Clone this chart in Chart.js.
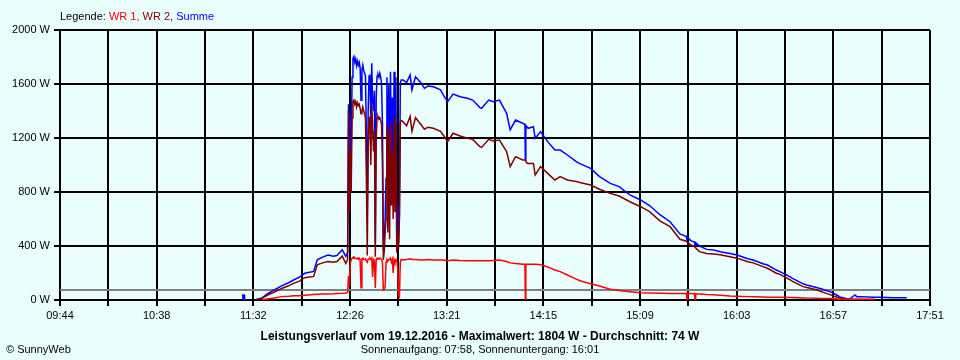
<!DOCTYPE html>
<html lang="de">
<head>
<meta charset="UTF-8">
<title>Leistungsverlauf vom 19.12.2016</title>
<script src="https://cdn.jsdelivr.net/npm/chart.js"></script>
<style>
  body { margin: 0; background: #ebfefe; font-family: 'Liberation Sans', Arial, sans-serif; font-size: 11px; color: #000; }
  .wrap { position: relative; width: 960px; height: 360px; }
  canvas { position: absolute; left: 0; top: 0; }
  .legend { position: absolute; left: 60px; top: 10px; line-height: 13px; white-space: nowrap; }
  .title { position: absolute; left: 0; width: 960px; top: 329px; text-align: center; font-weight: bold; font-size: 12px; line-height: 14px; }
  .sub { position: absolute; left: 0; width: 960px; top: 343px; text-align: center; line-height: 13px; }
  .copy { position: absolute; left: 6px; top: 343px; line-height: 13px; }
</style>
</head>
<body>
<div class="wrap">
  <canvas id="c" width="960" height="360"></canvas>
  <div class="legend">Legende: <span style="color:#ff0000">WR 1,</span> <span style="color:#800000">WR 2,</span> <span style="color:#0000ff">Summe</span></div>
  <div class="title">Leistungsverlauf vom 19.12.2016 - Maximalwert: 1804 W - Durchschnitt: 74 W</div>
  <div class="sub">Sonnenaufgang: 07:58, Sonnenuntergang: 16:01</div>
  <div class="copy">&copy; SunnyWeb</div>
</div>
<script>
// data
const xLabels = ['09:44', '10:38', '11:32', '12:26', '13:21', '14:15', '15:09', '16:03', '16:57', '17:51'];
const yTicks = [0, 400, 800, 1200, 1600, 2000];
const avgW = 74;

const times = [
  '11:26:00', '11:26:20', '11:27:00', '11:27:20', '11:30:00',
  '11:33:00', '11:37:00', '11:40:00', '11:44:00', '11:48:00', '11:52:00', '11:55:00', '11:58:00',
  '12:01:00', '12:06:00', '12:08:00', '12:11:00', '12:14:00', '12:17:00', '12:19:00', '12:22:00', '12:24:00',
  '12:25:00', '12:25:30', '12:26:00', '12:26:30', '12:27:00', '12:27:30', '12:28:00', '12:28:30',
  '12:29:00', '12:29:30', '12:30:00', '12:30:30', '12:31:00', '12:31:30', '12:32:00', '12:32:30',
  '12:33:00', '12:33:30', '12:34:00', '12:34:30', '12:35:00', '12:35:30', '12:36:00', '12:36:30',
  '12:37:00', '12:37:30', '12:38:00', '12:38:30', '12:39:00', '12:39:30', '12:40:00', '12:40:30',
  '12:41:00', '12:41:30', '12:42:00', '12:42:30', '12:43:00', '12:43:30', '12:44:00', '12:44:30',
  '12:45:00', '12:45:30', '12:46:00', '12:46:30', '12:47:00', '12:47:30', '12:48:00', '12:48:30',
  '12:49:00', '12:49:30', '12:50:00', '12:50:30', '12:51:00', '12:51:30', '12:52:00', '12:52:30',
  '12:53:00', '12:53:30', '12:54:00', '12:54:30', '12:55:00',
  '12:56:00', '12:58:00', '13:00:00', '13:01:00', '13:03:00', '13:06:00', '13:08:00', '13:10:00',
  '13:13:00', '13:17:00', '13:18:30', '13:21:00', '13:24:00', '13:28:00', '13:32:00', '13:35:00',
  '13:39:00', '13:40:00', '13:44:00', '13:46:30', '13:50:00', '13:54:00', '13:56:00', '13:59:00',
  '14:03:00', '14:04:15', '14:04:30', '14:04:45', '14:05:00', '14:06:00', '14:09:00', '14:10:00', '14:13:00', '14:17:00',
  '14:21:00', '14:24:00', '14:28:00', '14:33:00', '14:35:00', '14:41:00', '14:46:00', '14:52:00',
  '14:57:00', '15:03:00', '15:09:00', '15:14:00', '15:20:00', '15:25:30', '15:31:00', '15:34:40', '15:35:00', '15:35:20',
  '15:37:00', '15:39:10', '15:39:30', '15:39:50', '15:42:00', '15:46:00', '15:50:00', '15:53:30', '15:59:00', '16:03:00',
  '16:09:00', '16:12:00', '16:17:30', '16:20:00', '16:25:00', '16:27:00', '16:33:00', '16:34:00',
  '16:40:00', '16:42:00', '16:48:00', '16:49:30', '16:53:00', '16:55:00', '16:59:00', '17:01:00',
  '17:05:00', '17:06:00', '17:09:00', '17:10:00', '17:12:00', '17:20:00', '17:23:00', '17:30:00', '17:38:00'
];

const wr1 = [
  null, null, null, null, null,
  null, 2, 8, 15, 25, 28, 32, 32,
  35, 40, 42, 44, 45, 46, 48, 50, 52,
  54, 180, 100, 270, 300, 310, 315, 320,
  310, 310, 305, 310, 300, 310, 300, 90,
  305, 310, 300, 300, 305, 290, 280, 300,
  305, 310, 300, 310, 170, 300, 290, 89,
  300, 310, 305, 310, 305, 310, 300, 280,
  74, 80, 100, 280, 300, 290, 300, 300,
  310, 280, 300, 200, 300, 280, 300, 290,
  250, 25, 20, 280, 300,
  296, 300, 305, 300, 300, 296, 296, 300,
  296, 296, 296, 290, 296, 292, 290, 290,
  290, 290, 290, 292, 296, 285, 275, 270,
  265, 265, 0, 264, 264, 264, 264, 264, 262, 245,
  222, 210, 185, 155, 143, 120, 104, 80,
  70, 62, 54, 52, 50, 49, 49, 49, 0, 49,
  49, 47, 0, 46, 45, 40, 38, 35, 30, 28,
  25, 24, 22, 21, 20, 20, 18, 18,
  15, 14, 13, 12, 12, 12, 8, 5,
  5, 5, 5, 5, 5, 5, null, null, null
];

const wr2 = [
  null, null, null, null, null,
  0, 12, 35, 58, 85, 105, 125, 140,
  165, 175, 260, 275, 285, 280, 285, 325, 270,
  300, 1400, 650, 1100, 800, 1350, 1470, 1480,
  1450, 1470, 1430, 1460, 1440, 1450, 1420, 1380,
  1400, 1430, 1400, 1380, 1350, 900, 330, 1100,
  1350, 1360, 1000, 1440, 1300, 1100, 1250, 320,
  1200, 1350, 1360, 1340, 1350, 1330, 1300, 1000,
  296, 360, 500, 600, 1300, 500, 1250, 450,
  1300, 700, 1100, 600, 1350, 650, 1300, 350,
  500, 380, 600, 1320, 1330,
  1321, 1290, 1360, 1250, 1350, 1300, 1265, 1280,
  1272, 1250, 1222, 1173, 1235, 1215, 1198, 1190,
  1136, 1130, 1190, 1178, 1185, 1100, 988, 1062,
  1037, 1037, 1037, 1030, 1020, 1012, 1012, 926, 988, 938,
  889, 914, 889, 877, 870, 852, 820, 790,
  770, 728, 691, 654, 585, 543, 450, 435, 430, 428,
  407, 395, 390, 385, 358, 345, 341, 335, 321, 310,
  284, 275, 247, 235, 198, 190, 148, 138,
  99, 92, 74, 65, 49, 40, 20, 12,
  5, 4, 3, 3, 3, 3, null, null, null
];

const summe = [
  0, 37, 37, 0, null,
  0, 15, 45, 74, 105, 128, 150, 170,
  198, 212, 298, 318, 333, 325, 330, 372, 322,
  355, 1450, 750, 1380, 1100, 1650, 1790, 1804,
  1760, 1785, 1735, 1770, 1740, 1760, 1720, 1480,
  1700, 1740, 1700, 1680, 1660, 1200, 617, 1400,
  1660, 1670, 1300, 1753, 1470, 1400, 1550, 420,
  1500, 1660, 1670, 1650, 1680, 1650, 1600, 1300,
  370, 444, 600, 900, 1650, 800, 1600, 750,
  1690, 1000, 1500, 850, 1691, 950, 1650, 593,
  700, 420, 630, 1607, 1630,
  1630, 1610, 1667, 1556, 1654, 1610, 1568, 1585,
  1580, 1556, 1520, 1469, 1525, 1506, 1494, 1481,
  1425, 1420, 1481, 1469, 1481, 1383, 1260, 1333,
  1309, 1300, 1037, 1294, 1290, 1272, 1284, 1198, 1247, 1173,
  1111, 1111, 1074, 1025, 1010, 975, 914, 864,
  840, 778, 741, 700, 630, 580, 490, 470, 445, 465,
  440, 430, 400, 425, 400, 375, 370, 358, 345, 333,
  305, 296, 268, 259, 222, 210, 170, 160,
  120, 111, 90, 86, 70, 62, 35, 20,
  7, 7, 37, 25, 25, 20, 20, 17, 17
];

const toMin = s => {
  const p = s.split(':').map(Number);
  return p[0] * 60 + p[1] + (p[2] || 0) / 60;
};
const xMin = toMin(xLabels[0]);
const xMax = toMin(xLabels[xLabels.length - 1]);
const pts = arr => times.map((t, i) => ({ x: toMin(t), y: arr[i] }));

const font = { family: "'Liberation Sans', Arial, sans-serif", size: 11 };

new Chart(document.getElementById('c'), {
  type: 'line',
  data: {
    datasets: [
      { label: 'WR 1', data: pts(wr1), borderColor: '#ff0000', order: 0 },
      { label: 'WR 2', data: pts(wr2), borderColor: '#800000', order: 1 },
      { label: 'Summe', data: pts(summe), borderColor: '#0000ff', order: 2 },
      { label: 'Durchschnitt', data: [{ x: xMin, y: avgW }, { x: xMax, y: avgW }], borderColor: '#808080', borderWidth: 2, order: 3 }
    ]
  },
  options: {
    responsive: false,
    animation: false,
    elements: {
      point: { radius: 0 },
      line: { borderWidth: 1.5, tension: 0 }
    },
    layout: { padding: { left: 0, right: 30, top: 30, bottom: 0 } },
    plugins: {
      legend: { display: false },
      tooltip: { enabled: false }
    },
    scales: {
      x: {
        type: 'linear',
        min: xMin,
        max: xMax,
        // half-step grid lines, every second one labelled
        afterBuildTicks: s => {
          const n = (xLabels.length - 1) * 2;
          s.ticks = [];
          for (let i = 0; i <= n; i++) s.ticks.push({ value: xMin + i * (xMax - xMin) / n });
        },
        afterFit: s => { s.height = 60; },
        ticks: {
          autoSkip: false, maxRotation: 0, padding: 3, color: '#000', font: font,
          callback: (v, i) => (i % 2 === 0 ? xLabels[i / 2] : '')
        },
        grid: { color: '#000', lineWidth: 2, tickLength: 6 },
        border: { color: '#000', width: 2 }
      },
      y: {
        min: yTicks[0],
        max: yTicks[yTicks.length - 1],
        afterBuildTicks: s => { s.ticks = yTicks.map(v => ({ value: v })); },
        afterFit: s => { s.width = 60; },
        ticks: { padding: 4, color: '#000', font: font, callback: v => v + ' W' },
        grid: { color: '#000', lineWidth: 2, tickLength: 6 },
        border: { color: '#000', width: 2 }
      }
    }
  }
});
</script>
</body>
</html>
